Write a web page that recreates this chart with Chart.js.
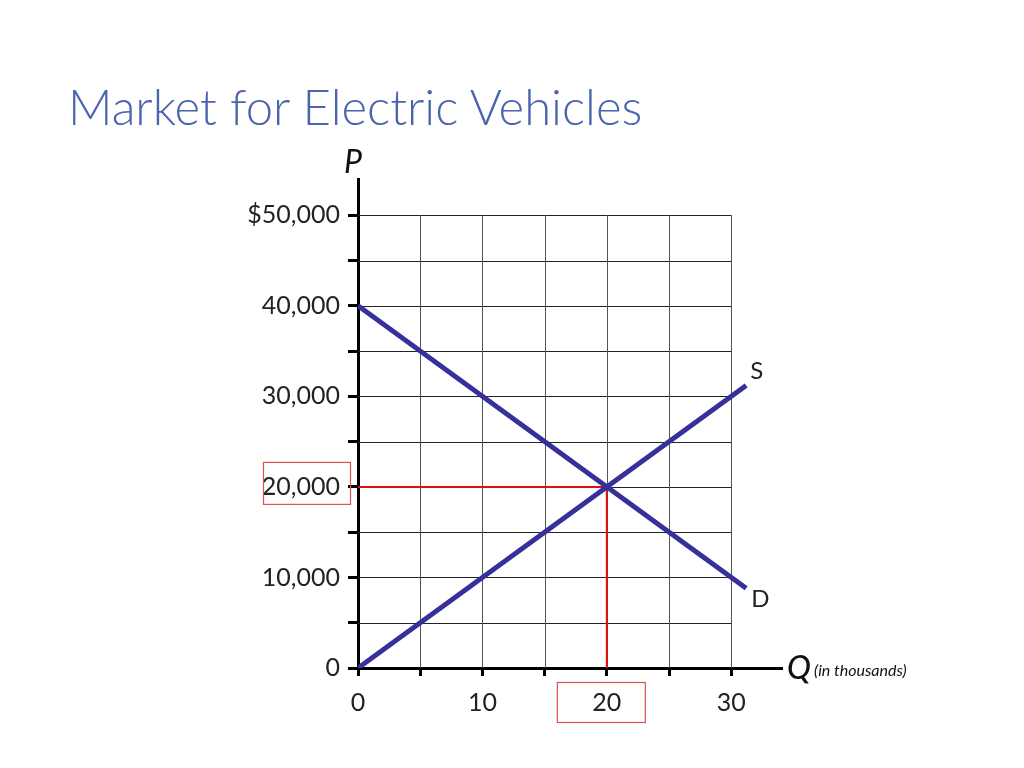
<!DOCTYPE html>
<html>
<head>
<meta charset="utf-8">
<script src="https://cdn.jsdelivr.net/npm/chart.js@4"></script>
<style>
  html, body { margin: 0; padding: 0; background: #fff; }
  #wrap { position: relative; width: 1024px; height: 768px; }
  #title {
    position: absolute; left: 68px; top: 77px; margin: 0;
    font-family: Lato, "Open Sans", sans-serif; font-weight: 300;
    font-size: 49px; color: #4a64ad; letter-spacing: 0; white-space: nowrap;
  }
  canvas { position: absolute; left: 0; top: 0; }
</style>
</head>
<body>
<div id="wrap">
  <h1 id="title">Market for Electric Vehicles</h1>
  <canvas id="chartMercado" width="1024" height="768"></canvas>
</div>
<script>
// datos del grafico
const cantidades = [0, 31.2];              // Q (miles)
const oferta = [0, 31200];                 // S
const demanda = [40000, 8800];             // D
const equilibrioQ = 20;
const equilibrioP = 20000;
const ticksX = [0, 5, 10, 15, 20, 25, 30];
const ticksY = [0, 5000, 10000, 15000, 20000, 25000, 30000, 35000, 40000, 45000, 50000];
const etiquetasX = {0: '0', 10: '10', 20: '20', 30: '30'};
const etiquetasY = {0: '0', 10000: '10,000', 20000: '20,000', 30000: '30,000', 40000: '40,000', 50000: '$50,000'};

const fuente = 'Lato, "Open Sans", sans-serif';

// rejilla solo dentro de 0-30 y 0-50,000
const rejilla = {
  id: 'rejilla',
  beforeDatasetsDraw(chart) {
    const ctx = chart.ctx, x = chart.scales.x, y = chart.scales.y;
    const x0 = x.getPixelForValue(0), x1 = x.getPixelForValue(30);
    const y0 = y.getPixelForValue(0), y1 = y.getPixelForValue(50000);
    ctx.save();
    ctx.lineWidth = 1;
    ticksY.forEach(v => {
      if (v === 0) return;
      const py = Math.round(y.getPixelForValue(v)) + 0.5;
      ctx.strokeStyle = '#222';
      ctx.beginPath(); ctx.moveTo(x0, py); ctx.lineTo(x1, py); ctx.stroke();
    });
    ticksX.forEach(v => {
      if (v === 0) return;
      const px = Math.round(x.getPixelForValue(v)) + 0.5;
      ctx.strokeStyle = '#555';
      ctx.beginPath(); ctx.moveTo(px, y1); ctx.lineTo(px, y0); ctx.stroke();
    });
    ctx.restore();
  },
  afterDraw(chart) {
    const ctx = chart.ctx, x = chart.scales.x, y = chart.scales.y;
    ctx.save();
    // recuadros rojos del equilibrio
    ctx.strokeStyle = '#e05050';
    ctx.lineWidth = 1.2;
    const py = y.getPixelForValue(equilibrioP);
    ctx.strokeRect(263.5, py - 24.5, 87, 42);
    const px = x.getPixelForValue(equilibrioQ);
    ctx.strokeRect(px - 49.5, 682.5, 88, 40);
    // etiquetas S y D
    ctx.fillStyle = '#222';
    ctx.font = '24px ' + fuente;
    ctx.textAlign = 'left';
    ctx.textBaseline = 'middle';
    const qf = cantidades[cantidades.length - 1];
    ctx.fillText('S', x.getPixelForValue(qf) + 4, y.getPixelForValue(oferta[1]) - 14);
    ctx.fillText('D', x.getPixelForValue(qf) + 5, y.getPixelForValue(demanda[1]) + 11);
    // nombres de ejes
    ctx.fillStyle = '#111';
    ctx.font = 'italic 32px ' + fuente;
    ctx.textAlign = 'center';
    ctx.fillText('P', x.getPixelForValue(0) - 5, y.getPixelForValue(54000) - 16);
    ctx.textAlign = 'left';
    const ax = x.getPixelForValue(34), ay = y.getPixelForValue(0);
    ctx.font = 'italic 500 32px ' + fuente;
    ctx.fillText('Q', ax + 6, ay + 1);
    ctx.font = 'italic 16px ' + fuente;
    ctx.fillText('(in thousands)', ax + 33, ay + 3);
    ctx.restore();
  }
};

const ctx = document.getElementById('chartMercado').getContext('2d');
new Chart(ctx, {
  type: 'scatter',
  data: {
    datasets: [
      {
        label: 'Precio equilibrio',
        data: [{x: 0, y: equilibrioP}, {x: equilibrioQ, y: equilibrioP}, {x: equilibrioQ, y: 0}],
        showLine: true, borderColor: '#e01010', borderWidth: 2, pointRadius: 0, order: 3
      },
      {
        label: 'S',
        data: cantidades.map((q, i) => ({x: q, y: oferta[i]})),
        showLine: true, borderColor: '#36309a', borderWidth: 5, pointRadius: 0, order: 1
      },
      {
        label: 'D',
        data: cantidades.map((q, i) => ({x: q, y: demanda[i]})),
        showLine: true, borderColor: '#36309a', borderWidth: 5, pointRadius: 0, order: 2
      }
    ]
  },
  options: {
    responsive: false,
    animation: false,
    layout: { padding: { top: 179, right: 243, left: 0, bottom: 0 } },
    plugins: { legend: { display: false }, tooltip: { enabled: false } },
    scales: {
      x: {
        type: 'linear', min: 0, max: 34,
        afterBuildTicks: s => { s.ticks = ticksX.map(v => ({value: v})); },
        afterFit: s => { s.height = 100; },
        grid: { drawOnChartArea: false, drawTicks: true, tickLength: 8, tickColor: '#000', lineWidth: 3 },
        border: { color: '#000', width: 3 },
        ticks: {
          padding: 12, color: '#222', maxRotation: 0, autoSkip: false,
          font: { family: fuente, size: 25 },
          callback: v => etiquetasX[v] || ''
        }
      },
      y: {
        type: 'linear', min: 0, max: 54000,
        afterBuildTicks: s => { s.ticks = ticksY.map(v => ({value: v})); },
        afterFit: s => { s.width = 358; },
        grid: { drawOnChartArea: false, drawTicks: true, tickLength: 10, tickColor: '#000', lineWidth: 3 },
        border: { color: '#000', width: 3 },
        ticks: {
          padding: 8, color: '#222', autoSkip: false,
          font: { family: fuente, size: 25 },
          callback: v => etiquetasY[v] || ''
        }
      }
    }
  },
  plugins: [rejilla]
});
</script>
</body>
</html>
